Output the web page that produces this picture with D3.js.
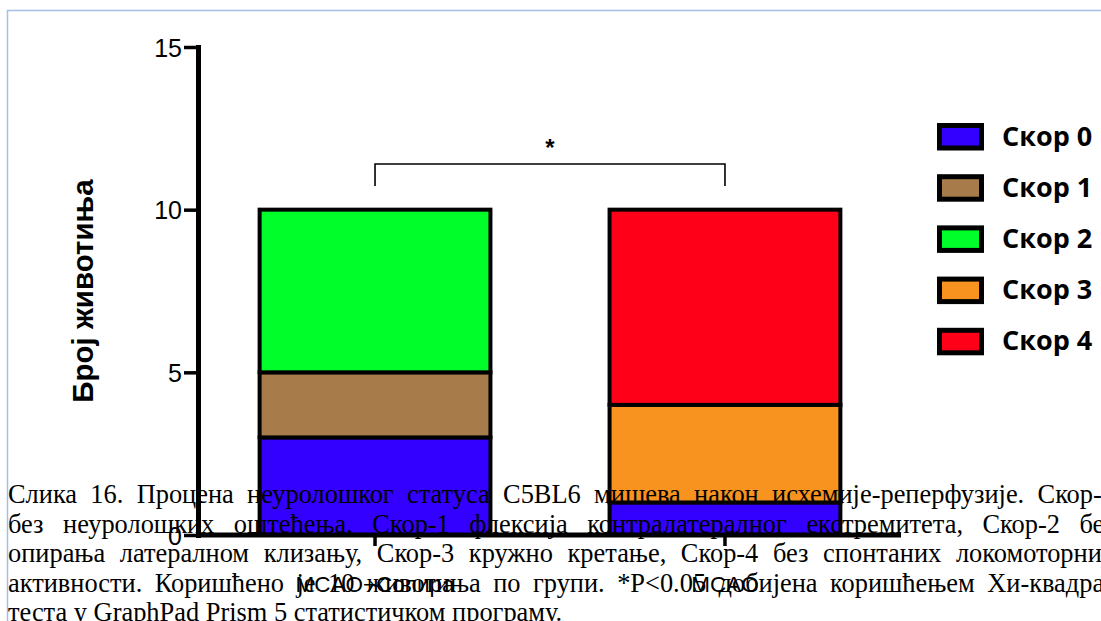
<!DOCTYPE html>
<html><head><meta charset="utf-8">
<script src="https://cdn.jsdelivr.net/npm/d3@7"></script>
<style>html,body{margin:0;padding:0;background:#fff;overflow:hidden}</style>
</head><body>
<svg id="c" width="1101" height="621"></svg>
<script>
// ---- data ----
const groups = ["MCAO+Сопира", "MCAO"];
const scoreNames = ["Скор 0", "Скор 1", "Скор 2", "Скор 3", "Скор 4"];
const score0 = [3, 1];
const score1 = [2, 0];
const score2 = [5, 0];
const score3 = [0, 3];
const score4 = [0, 6];
const yTicks = [0, 5, 10, 15];
const yTitle = "Број животиња";
const sigLabel = "*";
const captionLines = [
  "Слика 16. Процена неуролошког статуса C5BL6 мишева након исхемије-реперфузије. Скор-0",
  "без неуролошких оштећења, Скор-1 флексија контралатералног екстремитета, Скор-2 без",
  "опирања латералном клизању, Скор-3 кружно кретање, Скор-4 без спонтаних локомоторних",
  "активности. Коришћено је 10 животиња по групи. *P<0.05 добијена коришћењем Хи-квадрат",
  "теста у GraphPad Prism 5 статистичком програму."
];
const colors = ["#3300ff", "#a87c4a", "#00ff2a", "#f7931e", "#ff0019"];

// ---- build ----
const seriesArrays = [score0, score1, score2, score3, score4];
const table = groups.map((g, i) => {
  const row = {group: g};
  scoreNames.forEach((s, k) => row[s] = seriesArrays[k][i]);
  return row;
});
const stacked = d3.stack().keys(scoreNames)(table);

const svg = d3.select("#c");
svg.append("rect").attr("width", 1101).attr("height", 621).attr("fill", "#fff");
// page frame
svg.append("path").attr("d", "M7.5,640 V10.5 H1120").attr("fill", "none")
  .attr("stroke", "#a3bfe6").attr("stroke-width", 1.5);

const x = d3.scaleBand().domain(groups).range([199, 901]).paddingInner(0.329).paddingOuter(0.1675);
const y = d3.scaleLinear().domain([0, 15]).range([535, 47]);

// bars
const gBars = svg.append("g");
stacked.forEach((layer, k) => {
  gBars.selectAll(null).data(layer.filter(d => d[1] > d[0])).join("rect")
    .attr("x", d => x(d.data.group) + 2)
    .attr("width", x.bandwidth() - 4)
    .attr("y", d => y(d[1]))
    .attr("height", d => y(d[0]) - y(d[1]))
    .attr("fill", colors[k])
    .attr("stroke", "#000").attr("stroke-width", 4);
});

// y axis
const ya = svg.append("g").attr("transform", "translate(198,0)")
  .call(d3.axisLeft(y).tickValues(yTicks).tickSize(14).tickSizeOuter(0).tickPadding(2));
ya.select(".domain").attr("stroke-width", 5).attr("stroke-linecap", "square");
ya.selectAll(".tick line").attr("stroke-width", 3.5);
ya.selectAll(".tick text").attr("font-family", "Liberation Sans, Arial, sans-serif")
  .attr("font-size", 25).attr("fill", "#000").attr("dy", "0.36em");

// x axis
const xa = svg.append("g").attr("transform", "translate(0,535)")
  .call(d3.axisBottom(x).tickSize(11).tickSizeOuter(0).tickPadding(30));
xa.select(".domain").attr("d", "M198,0H901").attr("stroke-width", 5);
xa.selectAll(".tick line").attr("stroke-width", 3.5);
xa.selectAll(".tick text").attr("font-family", "Liberation Sans, Arial, sans-serif")
  .attr("font-size", 22.5).attr("fill", "#000");

// y title
svg.append("text").attr("transform", "translate(93,291) rotate(-90)")
  .attr("text-anchor", "middle").attr("font-family", "Liberation Sans, Arial, sans-serif")
  .attr("font-weight", "bold").attr("font-size", 29.5).text(yTitle);

// significance bracket
const xl = x(groups[0]) + x.bandwidth() / 2, xr = x(groups[1]) + x.bandwidth() / 2;
svg.append("path").attr("d", `M${xl},186V164H${xr}V186`).attr("fill", "none")
  .attr("stroke", "#000").attr("stroke-width", 1.6);
svg.append("text").attr("x", (xl + xr) / 2).attr("y", 156).attr("text-anchor", "middle")
  .attr("font-family", "Liberation Sans, Arial, sans-serif").attr("font-weight", "bold")
  .attr("font-size", 24).text(sigLabel);

// legend
const lg = svg.append("g");
scoreNames.forEach((s, k) => {
  const yy = 125.5 + k * 51.2;
  lg.append("rect").attr("x", 939.5).attr("y", yy).attr("width", 42).attr("height", 22.5)
    .attr("fill", colors[k]).attr("stroke", "#000").attr("stroke-width", 5);
  lg.append("text").attr("x", 1002).attr("y", yy + 20)
    .attr("font-family", "Open Sans, sans-serif").attr("font-weight", "bold")
    .attr("font-size", 27).text(s);
});

// caption overlay (justified)
const capW = 1107;
const capG = svg.append("g");
captionLines.forEach((line, i) => {
  const t = capG.append("text").attr("x", 8).attr("y", 503 + i * 29.6)
    .attr("font-family", "Liberation Serif, Times New Roman, serif")
    .attr("font-size", 26.4).attr("fill", "#000").text(line);
  if (i < captionLines.length - 1) {
    const len = t.node().getComputedTextLength();
    const spaces = (line.match(/ /g) || []).length;
    if (spaces) t.attr("word-spacing", Math.max(0, (capW - len) / spaces));
  }
});
</script>
</body></html>
